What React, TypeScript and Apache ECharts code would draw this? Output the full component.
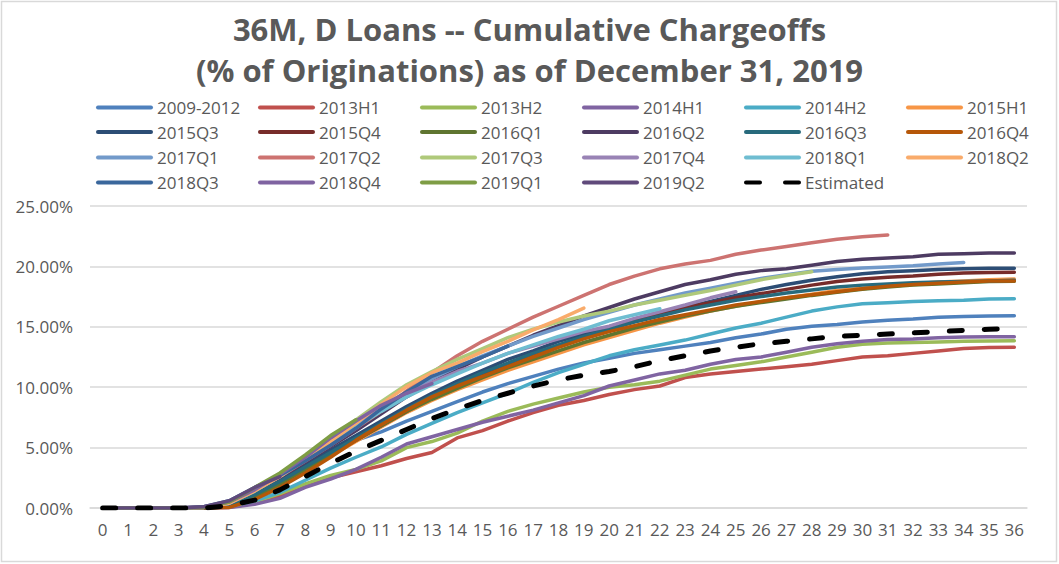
import React, { useEffect, useRef } from "react";
import * as echarts from "echarts";

const months = ["0","1","2","3","4","5","6","7","8","9","10","11","12","13","14","15","16","17","18","19","20","21","22","23","24","25","26","27","28","29","30","31","32","33","34","35","36"];

const s2009_2012 = [0,0,0,0,0.05,0.4,1.2,2.2,3.4,4.6,5.6,6.3,7.2,8.0,8.8,9.6,10.3,10.9,11.5,12.0,12.4,12.8,13.1,13.4,13.7,14.1,14.4,14.8,15.05,15.2,15.4,15.55,15.65,15.8,15.85,15.9,15.92];
const s2013H1 = [0,0,0,0,0,0.05,0.4,1.0,1.8,2.5,3.0,3.5,4.1,4.6,5.8,6.4,7.2,7.9,8.5,8.9,9.4,9.8,10.1,10.8,11.1,11.3,11.5,11.7,11.9,12.2,12.5,12.6,12.8,13.0,13.2,13.28,13.3];
const s2013H2 = [0,0,0,0,0,0.1,0.5,1.2,2.0,2.7,3.2,3.9,5.0,5.5,6.2,7.2,8.0,8.6,9.1,9.6,10.0,10.2,10.5,11.0,11.5,11.8,12.1,12.5,12.9,13.3,13.55,13.65,13.7,13.75,13.8,13.83,13.85];
const s2014H1 = [0,0,0,0,0,0.05,0.3,0.8,1.7,2.4,3.2,4.2,5.3,5.9,6.5,7.1,7.6,8.1,8.7,9.3,10.1,10.6,11.1,11.4,11.9,12.3,12.5,12.9,13.3,13.6,13.8,13.95,14.0,14.1,14.15,14.17,14.18];
const s2014H2 = [0,0,0,0,0,0.1,0.6,1.3,2.3,3.3,4.2,5.05,6.1,7.0,7.9,8.7,9.5,10.4,11.2,11.9,12.6,13.1,13.5,13.9,14.4,14.9,15.3,15.8,16.3,16.65,16.9,17.0,17.1,17.15,17.2,17.3,17.33];
const s2015H1 = [0,0,0,0,0,0.1,0.8,1.9,3.1,4.3,5.5,6.7,7.9,8.9,9.8,10.6,11.4,12.1,12.8,13.5,14.1,14.7,15.3,15.8,16.3,16.7,17.1,17.4,17.7,18.0,18.2,18.4,18.55,18.7,18.8,18.9,18.95];
const s2015Q3 = [0,0,0,0,0,0.3,1.3,2.4,3.6,4.8,6.0,7.2,8.4,9.5,10.5,11.4,12.3,13.0,13.8,14.4,15.0,15.6,16.1,16.6,17.1,17.6,18.1,18.5,18.85,19.15,19.4,19.55,19.65,19.75,19.8,19.84,19.85];
const s2015Q4 = [0,0,0,0,0,0.2,1.0,2.0,3.2,4.4,5.6,6.8,8.0,9.1,10.1,11.0,11.9,12.7,13.4,14.1,14.8,15.5,16.1,16.6,17.0,17.4,17.75,18.1,18.45,18.75,18.95,19.1,19.2,19.35,19.45,19.5,19.52];
const s2016Q1 = [0,0,0,0,0,0.1,0.9,2.0,3.2,4.4,5.6,6.8,8.0,9.0,9.9,10.8,11.6,12.3,13.0,13.7,14.3,14.9,15.4,15.9,16.3,16.7,17.0,17.3,17.6,17.85,18.1,18.3,18.45,18.55,18.65,18.75,18.78];
const s2016Q2 = [0,0,0,0,0,0.3,1.3,2.5,3.8,5.1,6.4,7.8,9.2,10.4,11.5,12.5,13.4,14.3,15.1,15.9,16.6,17.3,17.9,18.5,18.9,19.35,19.65,19.8,20.1,20.4,20.6,20.7,20.8,21.0,21.05,21.1,21.1];
const s2016Q3 = [0,0,0,0,0,0.2,1.1,2.2,3.4,4.6,5.8,7.0,8.2,9.3,10.3,11.2,12.0,12.8,13.5,14.2,14.8,15.4,15.9,16.4,16.8,17.2,17.5,17.8,18.05,18.3,18.45,18.55,18.65,18.7,18.75,18.8,18.85];
const s2016Q4 = [0,0,0,0,0,0.05,0.7,1.7,2.9,4.2,5.6,6.9,8.1,9.2,10.1,10.9,11.7,12.5,13.3,14.0,14.6,15.1,15.6,16.0,16.4,16.8,17.1,17.4,17.65,17.9,18.15,18.35,18.5,18.6,18.7,18.8,18.8];
const s2017Q1 = [0,0,0,0,0.1,0.5,1.6,2.8,4.3,5.7,7.1,8.4,9.6,10.7,11.7,12.6,13.4,14.2,14.9,15.6,16.2,16.8,17.3,17.8,18.2,18.6,19.0,19.3,19.6,19.75,19.86,19.95,20.05,20.2,20.33];
const s2017Q2 = [0,0,0,0,0.1,0.4,1.5,2.6,3.9,5.2,6.6,8.0,9.7,11.2,12.6,13.8,14.8,15.8,16.7,17.6,18.5,19.2,19.8,20.2,20.5,21.0,21.35,21.65,21.95,22.25,22.45,22.6];
const s2017Q3 = [0,0,0,0,0.05,0.5,1.5,2.8,4.3,5.8,7.3,8.8,10.2,11.3,12.3,13.2,14.1,14.8,15.4,15.9,16.3,16.8,17.2,17.6,18.0,18.45,18.9,19.25,19.55];
const s2017Q4 = [0,0,0,0,0.05,0.5,1.5,2.8,4.2,5.6,7.0,8.3,9.5,10.4,11.3,12.0,12.8,13.4,14.0,14.6,15.05,15.7,16.25,16.8,17.4,17.9];
const s2018Q1 = [0,0,0,0,0.05,0.4,1.4,2.6,4.0,5.4,6.7,8.0,9.2,10.2,11.1,12.0,12.8,13.5,14.2,14.8,15.5,16.0,16.5];
const s2018Q2 = [0,0,0,0,0.05,0.4,1.4,2.6,4.1,5.5,7.0,8.6,10.05,11.2,12.0,12.95,13.8,14.75,15.6,16.55];
const s2018Q3 = [0,0,0,0,0.1,0.6,1.7,2.7,3.9,5.2,6.6,8.2,9.6,10.9,11.7,12.5,13.4];
const s2018Q4 = [0,0,0,0,0.05,0.5,1.5,2.8,4.2,5.8,7.2,8.5,9.5,10.3];
const s2019Q1 = [0,0,0,0,0.05,0.5,1.7,2.9,4.4,6.0,7.3];
const s2019Q2 = [0,0,0,0,0.1,0.6,1.7,2.6];
const estimated = [0,0,0,0,0,0.2,0.65,1.5,2.6,3.7,4.7,5.6,6.5,7.4,8.2,8.9,9.5,10.1,10.6,11.0,11.3,11.7,12.2,12.6,13.0,13.3,13.6,13.8,14.0,14.2,14.3,14.4,14.5,14.6,14.7,14.8,14.85];

const seriesNames = ["2009-2012","2013H1","2013H2","2014H1","2014H2","2015H1","2015Q3","2015Q4","2016Q1","2016Q2","2016Q3","2016Q4","2017Q1","2017Q2","2017Q3","2017Q4","2018Q1","2018Q2","2018Q3","2018Q4","2019Q1","2019Q2"];
const seriesData = [s2009_2012,s2013H1,s2013H2,s2014H1,s2014H2,s2015H1,s2015Q3,s2015Q4,s2016Q1,s2016Q2,s2016Q3,s2016Q4,s2017Q1,s2017Q2,s2017Q3,s2017Q4,s2018Q1,s2018Q2,s2018Q3,s2018Q4,s2019Q1,s2019Q2];
const seriesColors = ["#4F81BD","#C0504D","#9BBB59","#8064A2","#4BACC6","#F79646","#2C4D75","#772C2A","#5F7530","#4D3B62","#276A7C","#B65708","#729ACA","#CD7371","#AFC97A","#9983B5","#6FBDD1","#F9AB6B","#3A679C","#7F63A1","#7E9D45","#604A7B"];
const estimatedName = "Estimated";
const yTicks = [0, 5, 10, 15, 20, 25];

const FONT = "'Open Sans', 'Noto Sans', sans-serif";
const GREY = "#595959";
const LINE_ICON = "path://M2,0h53a2,2 0 0 1 0,4h-53a2,2 0 0 1 0,-4z";
const DASH_ICON = "path://M2,0h14a2,2 0 0 1 0,4h-14a2,2 0 0 1 0,-4z M41,0h14a2,2 0 0 1 0,4h-14a2,2 0 0 1 0,-4z";

export default function App() {
  const ref = useRef<HTMLDivElement>(null);
  useEffect(() => {
    if (!ref.current) return;
    const chart = echarts.init(ref.current, null, { renderer: "svg" });
    const series: any[] = seriesNames.map((name, i) => ({
      name,
      type: "line",
      data: seriesData[i],
      symbol: "none",
      color: seriesColors[i],
      lineStyle: { width: 3.5, color: seriesColors[i], cap: "round", join: "round" },
    }));
    series.push({
      name: estimatedName,
      type: "line",
      data: estimated,
      symbol: "none",
      color: "#000000",
      z: 5,
      lineStyle: { width: 5, color: "#000000", type: [13, 22], cap: "round" },
    });
    const allNames = [...seriesNames, estimatedName];
    const rowCenters = [108, 132.5, 158, 183];
    const legends = allNames.map((name, idx) => {
      const r = Math.floor(idx / 6);
      const c = idx % 6;
      return {
        data: [{ name, icon: name === estimatedName ? DASH_ICON : LINE_ICON }],
        left: 96 + c * 162,
        top: rowCenters[r] - 9,
        orient: "horizontal",
        itemWidth: 57,
        itemHeight: 4.5,
        itemGap: 0,
        padding: 0,
        textStyle: { color: GREY, fontSize: 17, fontFamily: FONT, padding: [0, 0, 0, -1] },
        selectedMode: false,
      };
    });
    chart.setOption({
      animation: false,
      backgroundColor: "#ffffff",
      title: {
        text: "36M, D Loans -- Cumulative Chargeoffs\n(% of Originations) as of December 31, 2019",
        left: "center",
        top: 8,
        padding: 0,
        textStyle: { color: GREY, fontSize: 31, fontWeight: "bold", fontFamily: FONT, lineHeight: 41 },
      },
      legend: legends,
      grid: { left: 90, right: 32, top: 206, bottom: 56 },
      xAxis: {
        type: "category",
        data: months,
        boundaryGap: true,
        axisLine: { show: true, lineStyle: { color: "#D9D9D9", width: 1.5 } },
        axisTick: { show: false },
        axisLabel: { color: GREY, fontSize: 17, fontFamily: FONT, interval: 0, margin: 13 },
      },
      yAxis: {
        type: "value",
        min: yTicks[0],
        max: yTicks[yTicks.length - 1],
        interval: 5,
        axisLine: { show: false },
        axisTick: { show: false },
        splitLine: { lineStyle: { color: "#D9D9D9", width: 1.5 } },
        axisLabel: { color: GREY, fontSize: 17, fontFamily: FONT, margin: 17, formatter: (v: number) => v.toFixed(2) + "%" },
      },
      graphic: [
        { type: "rect", shape: { x: 1.5, y: 1.5, width: 1055, height: 560 }, style: { fill: "none", stroke: "#D9D9D9", lineWidth: 1.5 }, silent: true },
      ],
      series,
    });
    return () => chart.dispose();
  }, []);
  return <div ref={ref} style={{ position: "absolute", left: 0, top: 0, width: 1059, height: 564 }} />;
}
